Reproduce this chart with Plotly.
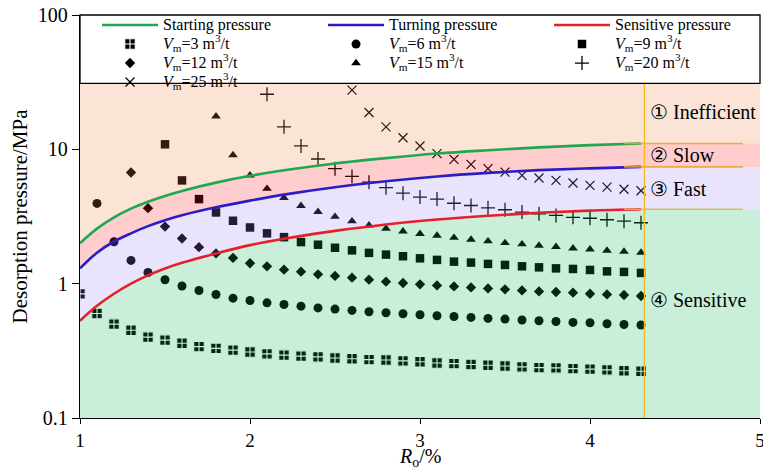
import numpy as np
import plotly.graph_objects as go

# ---------------- data ----------------
ro_all = [1.0, 1.1, 1.2, 1.3, 1.4, 1.5, 1.6, 1.7, 1.8, 1.9, 2.0, 2.1, 2.2, 2.3, 2.4,
          2.5, 2.6, 2.7, 2.8, 2.9, 3.0, 3.1, 3.2, 3.3, 3.4, 3.5, 3.6, 3.7, 3.8, 3.9,
          4.0, 4.1, 4.2, 4.3]

vm3 = [0.84, 0.60, 0.50, 0.45, 0.40, 0.38, 0.36, 0.34, 0.33, 0.32, 0.31, 0.30, 0.294,
       0.289, 0.285, 0.280, 0.276, 0.272, 0.270, 0.266, 0.262, 0.257, 0.254, 0.250,
       0.247, 0.244, 0.240, 0.237, 0.236, 0.233, 0.231, 0.228, 0.225, 0.223]
vm6 = [3.96, 2.05, 1.49, 1.21, 1.07, 0.96, 0.89, 0.83, 0.78, 0.75, 0.72, 0.70, 0.68,
       0.66, 0.647, 0.632, 0.618, 0.608, 0.597, 0.587, 0.577, 0.570, 0.561, 0.551,
       0.545, 0.536, 0.530, 0.523, 0.515, 0.512, 0.503, 0.497, 0.492]
vm9 = [10.9, 5.87, 4.26, 3.39, 2.94, 2.62, 2.37, 2.22, 2.04, 1.95, 1.85, 1.77, 1.695,
       1.646, 1.60, 1.544, 1.503, 1.459, 1.435, 1.403, 1.379, 1.346, 1.323, 1.30,
       1.287, 1.265, 1.235, 1.223, 1.202]
vm12 = [6.73, 3.65, 2.66, 2.17, 1.87, 1.68, 1.555, 1.418, 1.346, 1.272, 1.229, 1.173,
        1.142, 1.109, 1.071, 1.035, 1.012, 0.988, 0.971, 0.954, 0.938, 0.922, 0.907,
        0.891, 0.876, 0.867, 0.857, 0.842, 0.832, 0.824, 0.809]
vm15 = [17.6, 9.07, 6.40, 5.09, 4.36, 3.80, 3.43, 3.15, 2.92, 2.72, 2.57, 2.456, 2.35,
        2.28, 2.20, 2.13, 2.07, 2.01, 1.966, 1.92, 1.879, 1.835, 1.803, 1.763, 1.733,
        1.703]
vm20 = [25.7, 14.7, 10.6, 8.47, 7.18, 6.29, 5.70, 5.18, 4.72, 4.41, 4.26, 3.97, 3.82,
        3.67, 3.55, 3.41, 3.31, 3.22, 3.12, 3.07, 2.99, 2.92, 2.84]
vm25 = [27.6, 18.8, 14.7, 12.2, 10.6, 9.29, 8.42, 7.73, 7.18, 6.77, 6.40, 6.11, 5.87,
        5.61, 5.39, 5.23, 5.05, 4.92]

ro_curve = [1.0, 1.1, 1.2, 1.3, 1.4, 1.5, 1.6, 1.8, 2.0, 2.2, 2.5, 2.8, 3.1, 3.4, 3.7,
            4.0, 4.3]
starting = [2.0, 2.57, 3.12, 3.62, 4.07, 4.5, 4.9, 5.65, 6.35, 6.98, 7.85, 8.6, 9.3,
            9.85, 10.35, 10.75, 11.05]
turning = [1.3, 1.7, 2.06, 2.37, 2.68, 2.97, 3.23, 3.7, 4.15, 4.6, 5.22, 5.78, 6.28,
           6.68, 7.0, 7.22, 7.4]
sensitive = [0.53, 0.684, 0.841, 1.0, 1.153, 1.297, 1.429, 1.68, 1.936, 2.16, 2.47,
             2.76, 3.0, 3.2, 3.37, 3.5, 3.58]

ro_boundary = 4.32          # vertical divider
ro_right_end = 5.0
band_top = 31.0             # top of shaded zones (bottom of legend box)
y_bottom = 0.1
region_labels = ["\u2460 Inefficient", "\u2461 Slow", "\u2462 Fast", "\u2463 Sensitive"]
region_label_values = [18.9, 9.0, 5.1, 0.75]

series = [
    ("vm3", vm3, "3", "square-cross", 10.5, "legend"),
    ("vm6", vm6, "6", "circle", 9, "legend2"),
    ("vm9", vm9, "9", "square", 8.5, "legend3"),
    ("vm12", vm12, "12", "diamond", 8, "legend"),
    ("vm15", vm15, "15", "triangle-up", 8.5, "legend2"),
    ("vm20", vm20, "20", "cross-thin", 10, "legend3"),
    ("vm25", vm25, "25", "x-thin", 9, "legend"),
]
legend_rank = {"vm3": 2, "vm12": 3, "vm25": 4, "vm6": 2, "vm15": 3, "vm9": 2, "vm20": 3}

SERIF = "Liberation Serif"

fig = go.Figure()

# ---------------- markers (black; tinted by the translucent zone overlays) ----------------
for key, vals, vm, sym, size, leg in series:
    xs = ro_all[len(ro_all) - len(vals):]
    line = dict(width=0)
    if sym == "square-cross":
        line = dict(width=1.1, color="white")
    elif sym in ("cross-thin", "x-thin"):
        line = dict(width=1.3, color="black")
    fig.add_trace(go.Scatter(
        x=xs, y=vals, mode="markers",
        marker=dict(symbol=sym, size=size, color="black", line=line),
        name=f'<span style="font-size:16px"><i>V</i><sub>m</sub>={vm} m<sup>3</sup>/t</span>',
        legend=leg, legendrank=legend_rank[key],
    ))

# ---------------- translucent zone overlays ----------------
def ext(vals):
    return list(ro_curve) + [ro_right_end], list(vals) + [vals[-1]]

alpha = 0.22
fig.add_trace(go.Scatter(x=[1.0, ro_right_end], y=[y_bottom, y_bottom], mode="lines",
                         line=dict(width=0), showlegend=False, hoverinfo="skip"))
zones = [(sensitive, "rgba(10,178,82,%s)" % alpha),
         (turning, "rgba(155,132,241,%s)" % alpha),
         (starting, "rgba(255,28,28,%s)" % alpha)]
for vals, col in zones:
    xx, yy = ext(vals)
    fig.add_trace(go.Scatter(x=xx, y=yy, mode="lines", line=dict(width=0, shape="spline"),
                             fill="tonexty", fillcolor=col, showlegend=False,
                             hoverinfo="skip"))
fig.add_trace(go.Scatter(x=[1.0, ro_right_end], y=[band_top, band_top], mode="lines",
                         line=dict(width=0), fill="tonexty",
                         fillcolor="rgba(237,132,64,%s)" % alpha,
                         showlegend=False, hoverinfo="skip"))

# ---------------- pressure curves ----------------
curves = [("Starting pressure", starting, "#1fa84f", "legend"),
          ("Turning pressure", turning, "#2b1cc6", "legend2"),
          ("Sensitive pressure", sensitive, "#e5202b", "legend3")]
for name, vals, col, leg in curves:
    fig.add_trace(go.Scatter(
        x=ro_curve, y=vals, mode="lines", line=dict(color=col, width=2.6, shape="spline"),
        name=f'<span style="font-size:16px">{name}</span>', legend=leg, legendrank=1,
    ))

# right-hand zone boundary lines
for vals, col in [(starting, "rgba(240,160,30,0.85)"), (turning, "rgba(240,160,30,0.85)"),
                  (sensitive, "rgba(215,185,80,0.9)")]:
    fig.add_trace(go.Scatter(x=[4.2, 4.9], y=[vals[-1], vals[-1]], mode="lines",
                             line=dict(color=col, width=1.6), showlegend=False,
                             hoverinfo="skip"))
fig.add_trace(go.Scatter(x=[ro_boundary, ro_boundary], y=[y_bottom, band_top], mode="lines",
                         line=dict(color="#f2bd1a", width=1.3), showlegend=False,
                         hoverinfo="skip"))

# ---------------- region labels ----------------
for txt, v in zip(region_labels, region_label_values):
    fig.add_annotation(x=ro_boundary + 0.02, y=np.log10(v), text=txt, showarrow=False,
                       xanchor="left", yanchor="middle",
                       font=dict(family=SERIF, size=20, color="black"))

# x-axis title (placed below the tick labels)
fig.add_annotation(xref="paper", yref="paper", x=0.5, y=-0.099, yanchor="middle",
                   text="<i>R</i><sub>o</sub>/%", showarrow=False, borderpad=0,
                   font=dict(family=SERIF, size=20, color="black"))

# legend frame
box_bottom = (np.log10(band_top) + 1) / 3
fig.add_shape(type="rect", xref="paper", yref="paper", x0=0, x1=1, y0=box_bottom, y1=1,
              line=dict(color="black", width=1.3), fillcolor="rgba(0,0,0,0)", layer="above")

leg_common = dict(yanchor="top", y=1.011, xanchor="left", bgcolor="rgba(0,0,0,0)",
                  borderwidth=0, itemwidth=56, traceorder="normal",
                  font=dict(family=SERIF, size=12, color="black"))
fig.update_layout(
    width=763, height=469,
    margin=dict(l=80, r=3, t=15, b=51, autoexpand=False),
    paper_bgcolor="white", plot_bgcolor="white",
    font=dict(family=SERIF, color="black"),
    legend=dict(x=0.025, **leg_common),
    legend2=dict(x=0.3574, **leg_common),
    legend3=dict(x=0.6897, **leg_common),
    xaxis=dict(range=[1, 5], tickvals=[1, 2, 3, 4, 5], ticks="outside", ticklen=5,
               tickcolor="black", showline=True, linecolor="black", linewidth=1.3,
               showgrid=False, zeroline=False, tickfont=dict(size=19, family=SERIF),
               ticklabeloverflow="allow", automargin=False),
    yaxis=dict(type="log", range=[-1, 2], tickvals=[0.1, 1, 10, 100],
               ticktext=["0.1", "1", "10", "100"], ticks="outside", ticklen=7,
               tickcolor="black", showline=True, linecolor="black", linewidth=1.3,
               showgrid=False, zeroline=False, tickfont=dict(size=20, family=SERIF),
               automargin=False,
               title=dict(text="Desorption pressure/MPa", font=dict(size=21, family=SERIF),
                          standoff=4)),
    showlegend=True,
)

fig.write_html("out.html")
